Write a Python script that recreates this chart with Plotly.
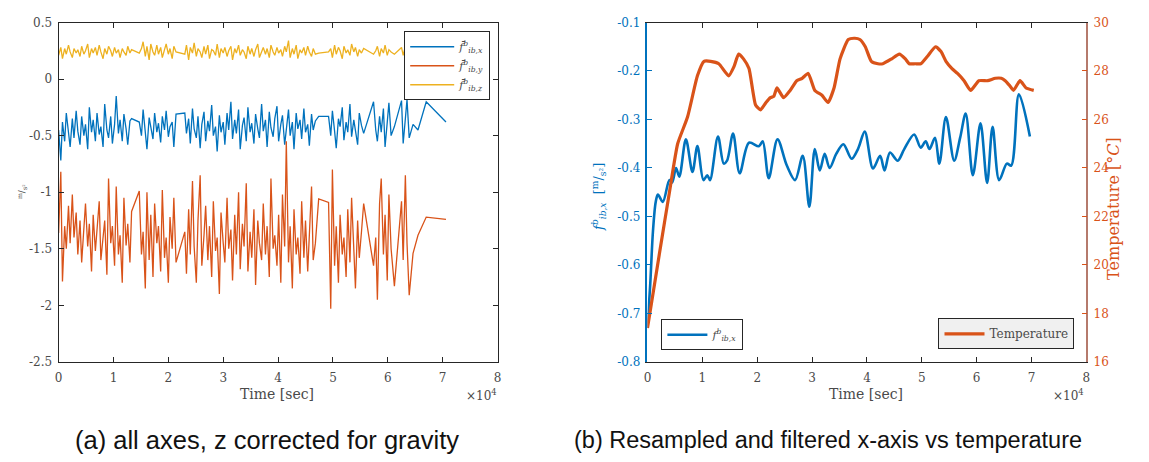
import plotly.graph_objects as go

# ---------------- data (time in units of 1e4 s) ----------------
t_raw = [
    0.00, 0.04, 0.07, 0.11, 0.14, 0.18, 0.21, 0.25, 0.28, 0.32,
    0.35, 0.39, 0.42, 0.46, 0.49, 0.53, 0.56, 0.60, 0.63, 0.67,
    0.70, 0.74, 0.77, 0.81, 0.84, 0.88, 0.91, 0.95, 0.98, 1.02,
    1.05, 1.09, 1.12, 1.16, 1.19, 1.23, 1.26, 1.30, 1.33, 1.47,
    1.51, 1.54, 1.58, 1.61, 1.65, 1.68, 1.72, 1.75, 1.79, 1.82,
    1.86, 1.89, 1.93, 1.96, 2.00, 2.03, 2.07, 2.10, 2.14, 2.30,
    2.33, 2.37, 2.40, 2.44, 2.47, 2.51, 2.54, 2.58, 2.61, 2.65,
    2.68, 2.72, 2.75, 2.79, 2.82, 2.86, 2.89, 2.93, 2.96, 3.00,
    3.03, 3.07, 3.10, 3.14, 3.17, 3.21, 3.24, 3.28, 3.31, 3.35,
    3.38, 3.42, 3.45, 3.49, 3.52, 3.56, 3.59, 3.63, 3.66, 3.70,
    3.73, 3.77, 3.80, 3.84, 3.87, 3.91, 3.94, 3.98, 4.01, 4.05,
    4.08, 4.12, 4.15, 4.19, 4.22, 4.26, 4.29, 4.33, 4.36, 4.40,
    4.43, 4.47, 4.50, 4.54, 4.57, 4.61, 4.64, 4.68, 4.74, 4.92,
    4.96, 4.99, 5.03, 5.06, 5.10, 5.13, 5.17, 5.20, 5.24, 5.27,
    5.31, 5.34, 5.38, 5.41, 5.45, 5.48, 5.52, 5.56, 5.74, 5.78,
    5.81, 5.85, 5.88, 5.92, 5.95, 5.99, 6.02, 6.06, 6.12, 6.25,
    6.28, 6.32, 6.35, 6.39, 6.46, 6.55, 6.70, 7.06,
]
fx_raw = [
    -0.45, -0.72, -0.38, -0.55, -0.30, -0.48, -0.60, -0.35, -0.52, -0.28,
    -0.46, -0.58, -0.33, -0.50, -0.40, -0.62, -0.25, -0.47, -0.36, -0.55,
    -0.30, -0.49, -0.42, -0.60, -0.22, -0.45, -0.52, -0.33, -0.57, -0.40,
    -0.15, -0.48, -0.36, -0.55, -0.31, -0.44, -0.58, -0.37, -0.35, -0.38,
    -0.50, -0.27, -0.46, -0.62, -0.34, -0.41, -0.53, -0.30, -0.47, -0.39,
    -0.56, -0.33, -0.45, -0.28, -0.51, -0.42, -0.38, -0.60, -0.31, -0.30,
    -0.48, -0.35, -0.57, -0.26, -0.44, -0.52, -0.33, -0.61, -0.40, -0.29,
    -0.55, -0.37, -0.46, -0.23, -0.50, -0.42, -0.64, -0.32, -0.47, -0.38,
    -0.58, -0.30, -0.45, -0.20, -0.53, -0.36, -0.48, -0.27, -0.62, -0.41,
    -0.34, -0.55, -0.25, -0.47, -0.39, -0.57, -0.31, -0.44, -0.52, -0.22,
    -0.46, -0.36, -0.60, -0.29, -0.43, -0.51, -0.35, -0.24, -0.55, -0.40,
    -0.32, -0.58, -0.45, -0.27, -0.50, -0.38, -0.62, -0.30, -0.44, -0.36,
    -0.53, -0.26, -0.47, -0.40, -0.59, -0.31, -0.45, -0.37, -0.33, -0.33,
    -0.50, -0.28, -0.46, -0.61, -0.35, -0.42, -0.25, -0.54, -0.38, -0.47,
    -0.22, -0.51, -0.36, -0.44, -0.58, -0.30, -0.41, -0.48, -0.20, -0.45,
    -0.55, -0.33, -0.47, -0.26, -0.60, -0.38, -0.21, -0.50, -0.42, -0.19,
    -0.57, -0.35, -0.18, -0.52, -0.40, -0.45, -0.20, -0.38,
]
fy_raw = [
    -1.36, -0.82, -1.79, -1.30, -1.50, -1.12, -1.45, -1.02, -1.40, -1.18,
    -1.55, -1.25, -1.62, -1.35, -1.10, -1.48, -1.28, -1.70, -1.20, -1.52,
    -1.33, -1.08, -1.60, -1.42, -1.25, -1.73, -0.88, -1.45, -1.30, -1.65,
    -0.95, -1.55, -1.38, -1.80, -1.05, -1.47, -1.28, -1.62, -1.17, -0.99,
    -1.55, -1.35, -1.85, -1.00, -1.60, -1.20, -1.75, -1.10, -1.45, -1.30,
    -1.70, -0.98, -1.58, -1.40, -1.80, -1.22, -1.50, -1.05, -1.62, -1.35,
    -1.72, -1.15, -1.55, -0.90, -1.48, -1.80, -1.25, -0.85, -1.65, -1.38,
    -1.12, -1.60, -1.30, -1.75, -1.08, -1.52, -1.40, -1.90, -1.18, -1.45,
    -1.62, -1.05, -1.50, -1.33, -1.78, -1.20, -1.55, -1.00, -1.68, -1.28,
    -1.48, -0.92, -1.70, -1.35, -1.58, -1.15, -1.82, -1.25, -1.45, -1.60,
    -1.10, -1.55, -1.30, -1.75, -0.88, -1.50, -1.38, -1.65, -1.20, -1.80,
    -1.02, -1.48, -0.55, -1.62, -1.30, -1.85, -1.15, -1.55, -1.40, -1.72,
    -1.08, -1.58, -1.25, -1.70, -1.35, -0.95, -1.60, -1.45, -1.06, -1.09,
    -2.03, -0.80, -1.65, -1.30, -1.80, -1.20, -1.55, -1.40, -1.75, -1.15,
    -1.62, -1.05, -1.50, -1.85, -1.25, -1.58, -1.35, -1.10, -1.65, -1.40,
    -1.95, -1.10, -0.88, -1.55, -1.20, -1.78, -1.02, -1.50, -1.83, -1.08,
    -1.60, -0.85, -1.45, -1.91, -1.54, -1.38, -1.22, -1.24,
]
fz_raw = [
    0.21, 0.28, 0.18, 0.27, 0.22, 0.30, 0.24, 0.19, 0.27, 0.23,
    0.26, 0.20, 0.29, 0.22, 0.25, 0.31, 0.19, 0.27, 0.23, 0.28,
    0.21, 0.30, 0.24, 0.18, 0.27, 0.22, 0.29, 0.25, 0.20, 0.28,
    0.23, 0.26, 0.19, 0.27, 0.24, 0.21, 0.29, 0.23, 0.26, 0.23,
    0.27, 0.33, 0.20, 0.29, 0.17, 0.31, 0.24, 0.21, 0.30, 0.22,
    0.28, 0.19, 0.26, 0.31, 0.22, 0.27, 0.18, 0.29, 0.24, 0.22,
    0.30, 0.17, 0.28, 0.23, 0.32, 0.20, 0.27, 0.24, 0.19, 0.29,
    0.22, 0.30, 0.18, 0.26, 0.25, 0.21, 0.31, 0.19, 0.27, 0.23,
    0.28, 0.20, 0.25, 0.29, 0.17, 0.27, 0.23, 0.30, 0.21, 0.26,
    0.24, 0.18, 0.29, 0.22, 0.27, 0.20, 0.26, 0.31, 0.19, 0.25,
    0.28, 0.22, 0.27, 0.19, 0.30, 0.24, 0.21, 0.28, 0.23, 0.26,
    0.20, 0.29, 0.24, 0.34, 0.19, 0.27, 0.22, 0.30, 0.18, 0.26,
    0.23, 0.28, 0.21, 0.29, 0.24, 0.20, 0.27, 0.22, 0.23, 0.24,
    0.27, 0.19, 0.30, 0.22, 0.28, 0.25, 0.18, 0.29, 0.23, 0.26,
    0.21, 0.31, 0.24, 0.28, 0.20, 0.26, 0.23, 0.27, 0.22, 0.25,
    0.29, 0.20, 0.27, 0.23, 0.30, 0.21, 0.26, 0.24, 0.22, 0.28,
    0.21, 0.29, 0.23, 0.26, 0.24, 0.25, 0.23, 0.24,
]

t_filt = [0.00, 0.05, 0.10, 0.15, 0.19, 0.28, 0.40, 0.45, 0.52, 0.58,
          0.70, 0.82, 0.91, 1.02, 1.09, 1.14, 1.285, 1.39, 1.45, 1.56,
          1.68, 1.85, 2.03, 2.10, 2.21, 2.37, 2.54, 2.69, 2.83, 2.95,
          3.05, 3.14, 3.23, 3.32, 3.44, 3.57, 3.72, 3.84, 3.96, 4.11,
          4.24, 4.32, 4.42, 4.56, 4.68, 4.86, 4.98, 5.07, 5.14, 5.24,
          5.32, 5.44, 5.59, 5.70, 5.80, 5.93, 6.07, 6.19, 6.29, 6.41,
          6.55, 6.63, 6.77, 6.97]
fx_filt = [-0.73, -0.64, -0.53, -0.47, -0.455, -0.47, -0.425, -0.43, -0.40, -0.418,
           -0.341, -0.408, -0.355, -0.425, -0.415, -0.425, -0.335, -0.391, -0.385, -0.329,
           -0.411, -0.348, -0.355, -0.345, -0.421, -0.341, -0.395, -0.425, -0.375, -0.48,
           -0.361, -0.405, -0.371, -0.40, -0.371, -0.351, -0.381, -0.36, -0.325, -0.401,
           -0.375, -0.405, -0.368, -0.385, -0.361, -0.331, -0.358, -0.345, -0.361, -0.338,
           -0.391, -0.295, -0.385, -0.337, -0.288, -0.415, -0.308, -0.431, -0.315, -0.425,
           -0.391, -0.395, -0.248, -0.335]

t_temp = [0.00, 0.22, 0.40, 0.55, 0.73, 0.91, 1.03, 1.15, 1.30, 1.48,
          1.58, 1.66, 1.75, 1.85, 1.97, 2.06, 2.16, 2.24, 2.30, 2.36,
          2.48, 2.60, 2.72, 2.82, 2.93, 3.05, 3.18, 3.29, 3.40, 3.51,
          3.66, 3.78, 3.87, 3.97, 4.08, 4.20, 4.29, 4.45, 4.59, 4.70,
          4.77, 4.88, 4.98, 5.10, 5.25, 5.35, 5.44, 5.55, 5.65, 5.77,
          5.89, 6.04, 6.20, 6.34, 6.45, 6.52, 6.60, 6.67, 6.79, 6.90, 7.04]
temp = [17.4, 20.5, 23.0, 25.0, 26.1, 27.8, 28.4, 28.4, 28.3, 27.8,
        28.2, 28.7, 28.5, 28.1, 26.6, 26.4, 26.7, 26.9, 26.95, 27.3,
        26.9, 27.2, 27.6, 27.7, 27.9, 27.2, 27.0, 26.7, 27.3, 28.5,
        29.3, 29.35, 29.3, 29.0, 28.4, 28.3, 28.3, 28.5, 28.7, 28.5,
        28.3, 28.3, 28.3, 28.6, 29.0, 28.8, 28.4, 28.1, 27.9, 27.6,
        27.2, 27.6, 27.6, 27.7, 27.7, 27.6, 27.4, 27.2, 27.6, 27.3, 27.2]

x_ticks = [0, 1, 2, 3, 4, 5, 6, 7, 8]
x_ticktext = ["0", "1", "2", "3", "4", "5", "6", "7", "8"]
ya_ticks = [0.5, 0, -0.5, -1, -1.5, -2, -2.5]
ya_ticktext = ["0.5", "0", "-0.5", "-1", "-1.5", "-2", "-2.5"]
yb_ticks = [-0.1, -0.2, -0.3, -0.4, -0.5, -0.6, -0.7, -0.8]
yb_ticktext = ["-0.1", "-0.2", "-0.3", "-0.4", "-0.5", "-0.6", "-0.7", "-0.8"]
temp_ticks = [16, 18, 20, 22, 24, 26, 28, 30]
temp_ticktext = ["16", "18", "20", "22", "24", "26", "28", "30"]

BLUE = "#0072BD"
ORANGE = "#D95319"
YELLOW = "#EDB120"
DARK = "#262626"
TXT = "#4a4a4a"
SERIF = "DejaVu Serif"

W, H = 1149, 462
def px(x):
    return x / W
def py(y):
    return 1 - y / H

fig = go.Figure()

# ----- left panel -----
fig.add_trace(go.Scatter(x=t_raw, y=fx_raw, mode="lines", line=dict(color=BLUE, width=1.3),
                         name="<i>f̄</i><sup><i>b</i></sup><sub><i>ib,x</i></sub>",
                         xaxis="x", yaxis="y", legend="legend"))
fig.add_trace(go.Scatter(x=t_raw, y=fy_raw, mode="lines", line=dict(color=ORANGE, width=1.3),
                         name="<i>f̄</i><sup><i>b</i></sup><sub><i>ib,y</i></sub>",
                         xaxis="x", yaxis="y", legend="legend"))
fig.add_trace(go.Scatter(x=t_raw, y=fz_raw, mode="lines", line=dict(color=YELLOW, width=1.3),
                         name="<i>f̄</i><sup><i>b</i></sup><sub><i>ib,z</i></sub>",
                         xaxis="x", yaxis="y", legend="legend"))

# ----- right panel -----
fig.add_trace(go.Scatter(x=t_temp, y=temp, mode="lines",
                         line=dict(color=ORANGE, width=3.2, shape="spline", smoothing=0.5),
                         name="Temperature", xaxis="x2", yaxis="y3", legend="legend3"))
fig.add_trace(go.Scatter(x=t_filt, y=fx_filt, mode="lines",
                         line=dict(color=BLUE, width=2.6, shape="spline", smoothing=0.9),
                         name="<i>f</i><sup><i>b</i></sup><sub><i>ib,x</i></sub>",
                         xaxis="x2", yaxis="y2", legend="legend2"))

tickfont = dict(family=SERIF, size=12, color=TXT)
common_x = dict(range=[0, 8], tickvals=x_ticks, ticktext=x_ticktext, ticks="inside",
                ticklen=5, tickcolor=DARK, showline=True, linecolor=DARK, linewidth=1,
                showgrid=False, zeroline=False, tickfont=tickfont, ticklabelstandoff=5)

fig.update_layout(
    width=W, height=H, margin=dict(l=0, r=0, t=0, b=0),
    paper_bgcolor="white", plot_bgcolor="white",
    xaxis=dict(domain=[px(55), px(497)], anchor="y", mirror="ticks", **common_x),
    yaxis=dict(domain=[py(366), py(16)], anchor="x", range=[-2.5, 0.5], tickvals=ya_ticks,
               ticktext=ya_ticktext, ticks="inside", ticklen=5, tickcolor=DARK,
               showline=True, linecolor=DARK, linewidth=1, mirror="ticks",
               showgrid=False, zeroline=False, tickfont=tickfont, ticklabelstandoff=3),
    xaxis2=dict(domain=[px(648), px(1090)], anchor="y2", mirror="ticks", **common_x),
    yaxis2=dict(domain=[py(366), py(16)], anchor="x2", range=[-0.8, -0.1], tickvals=yb_ticks,
                ticktext=yb_ticktext, ticks="inside", ticklen=5, tickcolor=BLUE,
                showline=True, linecolor=BLUE, linewidth=1.5, showgrid=False, zeroline=False,
                tickfont=dict(family=SERIF, size=12, color=BLUE), ticklabelstandoff=3),
    yaxis3=dict(overlaying="y2", anchor="x2", side="right", range=[16, 30], tickvals=temp_ticks,
                ticktext=temp_ticktext, ticks="inside", ticklen=5, tickcolor=ORANGE,
                showline=True, linecolor="#b57a6c", linewidth=1.5, showgrid=False,
                zeroline=False, tickfont=dict(family=SERIF, size=12, color=ORANGE),
                ticklabelstandoff=3),
    showlegend=True,
    legend=dict(x=px(403), y=py(25), xanchor="left", yanchor="top", bgcolor="white",
                bordercolor=DARK, borderwidth=1, font=dict(family=SERIF, size=11, color=TXT),
                tracegroupgap=0, itemwidth=44),
    legend2=dict(x=px(662), y=py(354), xanchor="left", yanchor="bottom", bgcolor="white",
                 bordercolor=DARK, borderwidth=1, font=dict(family=SERIF, size=11, color=TXT),
                 itemwidth=40),
    legend3=dict(x=px(1078), y=py(353), xanchor="right", yanchor="bottom", bgcolor="#f0f0f0",
                 bordercolor=DARK, borderwidth=1, font=dict(family=SERIF, size=12, color=TXT),
                 itemwidth=40),
)

annots = [
    dict(x=px(275), y=py(399), text="Time [sec]", font=dict(family=SERIF, size=14, color=TXT)),
    dict(x=px(868), y=py(399), text="Time [sec]", font=dict(family=SERIF, size=14, color=TXT)),
    dict(x=px(481), y=py(400), text="×10<sup>4</sup>", font=dict(family=SERIF, size=12, color=TXT)),
    dict(x=px(1072), y=py(400), text="×10<sup>4</sup>", font=dict(family=SERIF, size=12, color=TXT)),
    dict(x=px(18), y=py(190), text="<sup>m</sup>/<sub>s²</sub>", textangle=-90,
         font=dict(family=SERIF, size=9, color=TXT)),
    dict(x=px(599), y=py(196),
         text="<i>f</i><sup><i>b</i></sup><sub><i>ib,x</i></sub>  [<sup>m</sup>/<sub>s²</sub>]",
         textangle=-90, font=dict(family=SERIF, size=13, color=BLUE)),
    dict(x=px(1117), y=py(208), text="Temperature [°<i>C</i>]", textangle=-90,
         font=dict(family=SERIF, size=16, color=ORANGE)),
    dict(x=px(265), y=py(447), text="(a) all axes, z corrected for gravity",
         font=dict(family="Liberation Sans", size=25.5, color="#111111")),
    dict(x=px(830), y=py(447), text="(b) Resampled and filtered x-axis vs temperature",
         font=dict(family="Liberation Sans", size=23.5, color="#111111")),
]
for a in annots:
    a.update(xref="paper", yref="paper", showarrow=False, xanchor="center", yanchor="middle")
    fig.add_annotation(**a)

fig.write_html("out.html")
